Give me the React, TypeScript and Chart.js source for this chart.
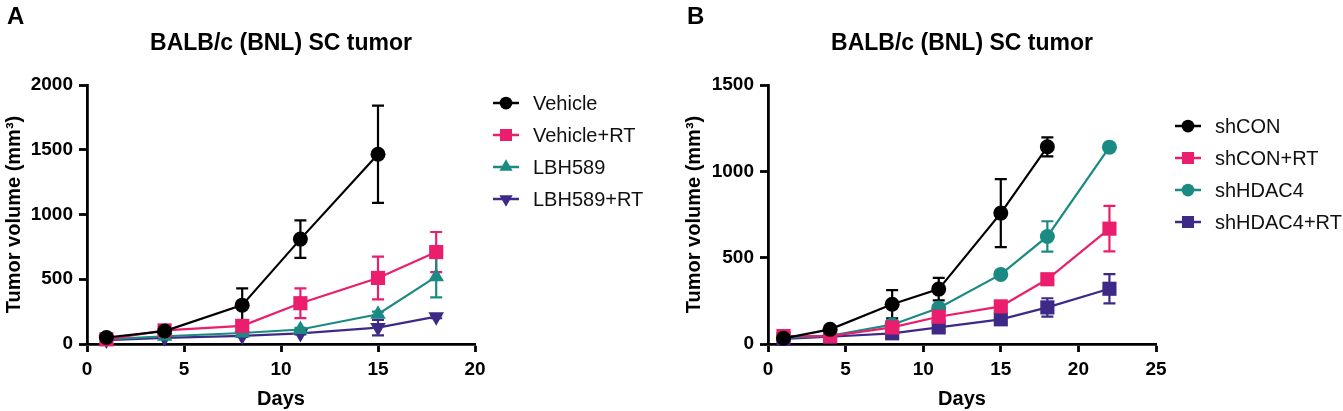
import { useEffect, useRef } from "react";
import { Chart, registerables } from "chart.js";
import { drawPoint } from "chart.js/helpers";

Chart.register(...registerables);

// panel A: LBH589 treatment
const daysA = [1, 4, 8, 11, 15, 18];
const vehicle = [50, 100, 300, 810, 1465];
const vehicleErr = [8, 15, 130, 145, 375];
const vehicleRT = [36, 105, 140, 315, 510, 710];
const vehicleRTErr = [5, 10, 25, 115, 165, 155];
const lbh589 = [35, 60, 85, 112, 230, 520];
const lbh589Err = [5, 8, 12, 12, 20, 160];
const lbh589RT = [30, 48, 62, 82, 127, 211];
const lbh589RTErr = [4, 6, 8, 8, 60, 12];
const xTicksA = [0, 5, 10, 15, 20];
const yTicksA = [0, 500, 1000, 1500, 2000];

// panel B: HDAC4 knockdown
const daysB = [1, 4, 8, 11, 15, 18, 22];
const shCON = [33, 85, 230, 318, 758, 1142];
const shCONErr = [5, 10, 82, 65, 197, 55];
const shCONRT = [46, 45, 96, 158, 218, 375, 668];
const shCONRTErr = [5, 5, 10, 12, 15, 15, 132];
const shHDAC4 = [36, 48, 112, 208, 403, 623, 1140];
const shHDAC4Err = [4, 5, 10, 10, 15, 88, 10];
const shHDAC4RT = [30, 42, 62, 96, 143, 212, 320];
const shHDAC4RTErr = [4, 5, 8, 10, 18, 53, 85];
const xTicksB = [0, 5, 10, 15, 20, 25];
const yTicksB = [0, 500, 1000, 1500];

const BLACK = "#000000";
const PINK = "#ea1e6c";
const TEAL = "#1a8a82";
const PURPLE = "#3e2a86";

const SANS = '"Liberation Sans", Arial, Helvetica, sans-serif';

type Series = {
  label: string;
  values: number[];
  errors: number[];
  color: string;
  style: string;
  radius: number;
  rotation?: number;
};

type PanelProps = {
  letter: string;
  days: number[];
  series: Series[];
  xTicks: number[];
  yTicks: number[];
  width: number;
  left: number;
  plotLeft: number;
  plotRight: number;
  legendX: number;
  legendY: number;
};

const errorBars = {
  id: "errorBars",
  beforeDatasetsDraw(chart: any) {
    const { ctx } = chart;
    const xs = chart.scales.x;
    const ys = chart.scales.y;
    chart.data.datasets.forEach((ds: any) => {
      ctx.save();
      ctx.strokeStyle = ds.borderColor;
      ctx.lineWidth = 2.2;
      ds.data.forEach((p: any, j: number) => {
        const e = ds.errors[j];
        const px = xs.getPixelForValue(p.x);
        const top = ys.getPixelForValue(p.y + e);
        const bot = ys.getPixelForValue(p.y - e);
        ctx.beginPath();
        ctx.moveTo(px, top);
        ctx.lineTo(px, bot);
        ctx.moveTo(px - 6, top);
        ctx.lineTo(px + 6, top);
        ctx.moveTo(px - 6, bot);
        ctx.lineTo(px + 6, bot);
        ctx.stroke();
      });
      ctx.restore();
    });
  },
};

function Panel(props: PanelProps) {
  const canvasRef = useRef<HTMLCanvasElement | null>(null);

  useEffect(() => {
    if (!canvasRef.current) return;
    const { days, series, xTicks, yTicks } = props;

    const labels = {
      id: "panelLabels",
      afterDraw(chart: any) {
        const { ctx, chartArea } = chart;
        ctx.save();
        ctx.fillStyle = "#000";
        ctx.textBaseline = "middle";
        ctx.font = `bold 24px ${SANS}`;
        ctx.textAlign = "left";
        ctx.fillText(props.letter, 7, 17);
        ctx.textAlign = "center";
        ctx.font = `bold 23px ${SANS}`;
        ctx.fillText("BALB/c (BNL) SC tumor", (chartArea.left + chartArea.right) / 2, 44);

        // legend: line with the marker on it, then the name
        series.forEach((s, i) => {
          const y = props.legendY + i * 32;
          const x0 = props.legendX;
          ctx.strokeStyle = s.color;
          ctx.lineWidth = 2.5;
          ctx.beginPath();
          ctx.moveTo(x0, y);
          ctx.lineTo(x0 + 26, y);
          ctx.stroke();
          ctx.fillStyle = s.color;
          drawPoint(
            ctx,
            { pointStyle: s.style, radius: s.radius * 0.85, rotation: s.rotation ?? 0, borderWidth: 0 } as any,
            x0 + 13,
            y
          );
          ctx.fillStyle = "#111";
          ctx.textAlign = "left";
          ctx.font = `20px ${SANS}`;
          ctx.fillText(s.label, x0 + 40, y + 1);
        });
        ctx.restore();
      },
    };

    const chart = new Chart(canvasRef.current, {
      type: "line",
      data: {
        datasets: series.map((s) => ({
          label: s.label,
          data: s.values.map((v, i) => ({ x: days[i], y: v })),
          errors: s.errors,
          borderColor: s.color,
          backgroundColor: s.color,
          borderWidth: 2.2,
          pointStyle: s.style as any,
          pointRadius: s.radius,
          pointRotation: s.rotation ?? 0,
          pointBorderWidth: 0,
          tension: 0,
          clip: false as any,
        })) as any,
      },
      options: {
        animation: false,
        responsive: true,
        maintainAspectRatio: false,
        layout: {
          padding: { left: 0, top: 85, right: props.width - props.plotRight, bottom: 0 },
        },
        plugins: {
          legend: { display: false },
          tooltip: { enabled: false },
        },
        scales: {
          x: {
            type: "linear",
            min: xTicks[0],
            max: xTicks[xTicks.length - 1],
            afterFit: (scale: any) => {
              scale.height = 67;
            },
            afterBuildTicks: (scale: any) => {
              scale.ticks = xTicks.map((v) => ({ value: v }));
            },
            grid: {
              drawOnChartArea: false,
              drawTicks: true,
              tickLength: 8,
              tickWidth: 2.8,
              tickColor: "#000",
            },
            border: { display: true, color: "#000", width: 2.8 },
            ticks: {
              color: "#000",
              padding: 6,
              callback: (v: any) => String(v),
              font: { family: SANS, size: 19, weight: "bold" },
            },
            title: {
              display: true,
              text: "Days",
              color: "#000",
              padding: { top: 0, bottom: 2 },
              font: { family: SANS, size: 20, weight: "bold", lineHeight: 1 },
            },
          },
          y: {
            type: "linear",
            min: yTicks[0],
            max: yTicks[yTicks.length - 1],
            afterFit: (scale: any) => {
              scale.width = props.plotLeft;
            },
            afterBuildTicks: (scale: any) => {
              scale.ticks = yTicks.map((v) => ({ value: v }));
            },
            grid: {
              drawOnChartArea: false,
              drawTicks: true,
              tickLength: 8,
              tickWidth: 2.8,
              tickColor: "#000",
            },
            border: { display: true, color: "#000", width: 2.8 },
            ticks: {
              color: "#000",
              padding: 6,
              callback: (v: any) => String(v),
              font: { family: SANS, size: 19, weight: "bold" },
            },
            title: {
              display: true,
              text: "Tumor volume (mm³)",
              color: "#000",
              padding: { top: 4, bottom: 0 },
              font: { family: SANS, size: 20, weight: "bold", lineHeight: 1 },
            },
          },
        },
      },
      plugins: [errorBars, labels],
    });

    return () => {
      chart.destroy();
    };
  }, [props]);

  return (
    <div style={{ position: "absolute", left: props.left, top: 0, width: props.width, height: 411 }}>
      <canvas ref={canvasRef} />
    </div>
  );
}

const seriesA: Series[] = [
  { label: "Vehicle", values: vehicle, errors: vehicleErr, color: BLACK, style: "circle", radius: 7.5 },
  { label: "Vehicle+RT", values: vehicleRT, errors: vehicleRTErr, color: PINK, style: "rect", radius: 10 },
  { label: "LBH589", values: lbh589, errors: lbh589Err, color: TEAL, style: "triangle", radius: 9 },
  { label: "LBH589+RT", values: lbh589RT, errors: lbh589RTErr, color: PURPLE, style: "triangle", radius: 9, rotation: 180 },
];

const seriesB: Series[] = [
  { label: "shCON", values: shCON, errors: shCONErr, color: BLACK, style: "circle", radius: 7.5 },
  { label: "shCON+RT", values: shCONRT, errors: shCONRTErr, color: PINK, style: "rect", radius: 10 },
  { label: "shHDAC4", values: shHDAC4, errors: shHDAC4Err, color: TEAL, style: "circle", radius: 7.5 },
  { label: "shHDAC4+RT", values: shHDAC4RT, errors: shHDAC4RTErr, color: PURPLE, style: "rect", radius: 10 },
];

const propsA: PanelProps = {
  letter: "A",
  days: daysA,
  series: seriesA,
  xTicks: xTicksA,
  yTicks: yTicksA,
  width: 680,
  left: 0,
  plotLeft: 87,
  plotRight: 475,
  legendX: 493,
  legendY: 103,
};

const propsB: PanelProps = {
  letter: "B",
  days: daysB,
  series: seriesB,
  xTicks: xTicksB,
  yTicks: yTicksB,
  width: 663,
  left: 680,
  plotLeft: 88,
  plotRight: 476,
  legendX: 495,
  legendY: 126,
};

export default function App() {
  return (
    <div style={{ position: "absolute", left: 0, top: 0, width: 1343, height: 411, background: "#fff" }}>
      <Panel {...propsA} />
      <Panel {...propsB} />
    </div>
  );
}
